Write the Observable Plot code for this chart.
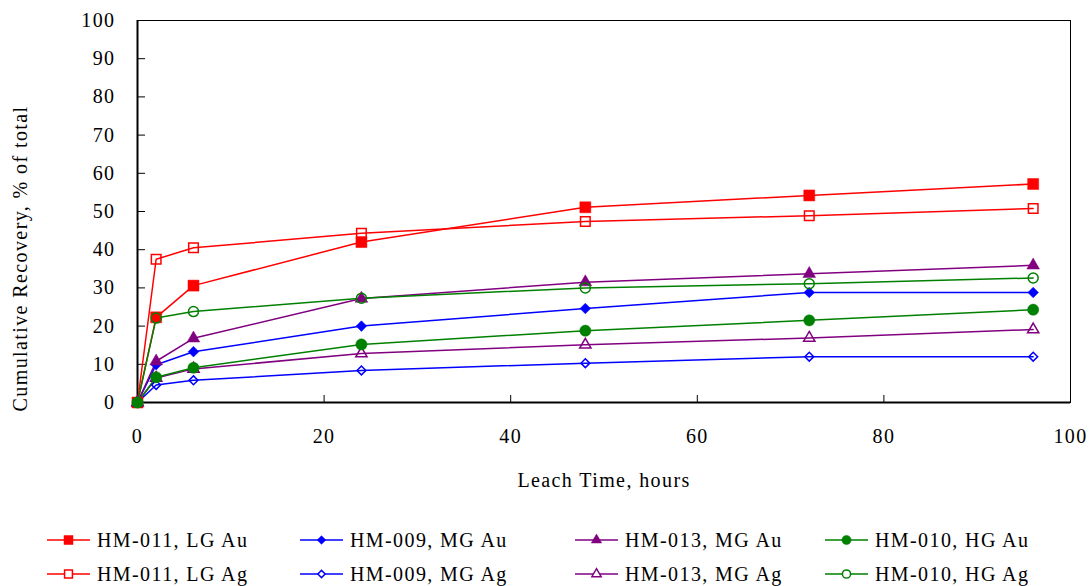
<!DOCTYPE html>
<html><head><meta charset="utf-8">
<script src="https://cdn.jsdelivr.net/npm/d3@7"></script>
<script src="https://cdn.jsdelivr.net/npm/@observablehq/plot@0.6"></script>
<style>
body{margin:0;background:#fff;}
#chart{width:1091px;font-family:"Liberation Serif","Times New Roman",serif;}
#chart svg text{letter-spacing:1.4px;font-family:"Liberation Serif","Times New Roman",serif !important;font-variant:normal !important;}
#legend{display:block;}
</style></head><body>
<div id="chart"></div>
<script>
// ---- data ----
const time = [0, 2, 6, 24, 48, 72, 96];
const hm011Au = [0, 22.3, 30.6, 42.0, 51.1, 54.2, 57.2];
const hm011Ag = [0, 37.5, 40.5, 44.3, 47.4, 48.9, 50.8];
const hm009Au = [0, 9.9, 13.3, 20.0, 24.6, 28.8, 28.8];
const hm009Ag = [0, 4.6, 5.8, 8.4, 10.3, 12.0, 12.0];
const hm013Au = [0, 10.8, 16.8, 27.2, 31.5, 33.7, 35.9];
const hm013Ag = [0, 6.4, 8.8, 12.8, 15.1, 16.9, 19.1];
const hm010Au = [0, 6.6, 9.1, 15.2, 18.8, 21.5, 24.3];
const hm010Ag = [0, 22.1, 23.8, 27.3, 30.0, 31.1, 32.6];
const seriesNames = ["HM-011, LG Au","HM-011, LG Ag","HM-009, MG Au","HM-009, MG Ag","HM-013, MG Au","HM-013, MG Ag","HM-010, HG Au","HM-010, HG Ag"];
const xTicks = [0, 20, 40, 60, 80, 100];
const yTicks = [0, 10, 20, 30, 40, 50, 60, 70, 80, 90, 100];
const xLabel = "Leach Time, hours";
const yLabel = "Cumulative Recovery, % of total";

// ---- styles ----
const seriesValues = [hm011Au, hm011Ag, hm009Au, hm009Ag, hm013Au, hm013Ag, hm010Au, hm010Ag];
const seriesColors = ["#ff0000","#ff0000","#0000ff","#0000ff","#800080","#800080","#008000","#008000"];
const seriesSymbols = ["square","square","diamond2","diamond2","triangle","triangle","circle","circle"];
const seriesFilled = [true,false,true,false,true,false,true,false];
const symbolR = {square:[6.2,5.4], diamond2:[4.8,4.0], triangle:[4.7,4.2], circle:[5.6,5.0]};
const legendOrder = [0,2,4,6,1,3,5,7];
const FONT = '"Liberation Serif","Times New Roman",serif';

const W = 1091, H = 512, mL = 137, mR = 21, mT = 20, mB = 110;
const plotW = W - mL - mR, plotH = H - mT - mB;

const series = seriesNames.map((name, i) => ({
  name, color: seriesColors[i], symbol: seriesSymbols[i], filled: seriesFilled[i],
  data: time.map((t, j) => ({t, v: seriesValues[i][j]}))
}));

const marks = [
  Plot.frame({stroke: "#000", strokeWidth: 1}),
  Plot.axisX({ticks: xTicks, tickSize: 0, tickPadding: 26, label: null, fontSize: 20, fontFamily: FONT, tickFormat: d => d}),
  Plot.axisY({ticks: yTicks, tickSize: 0, tickPadding: 22, label: null, fontSize: 20, fontFamily: FONT, tickFormat: d => d}),
  Plot.tickX(xTicks.slice(1, -1), {x: d => d, stroke: "#000", insetTop: plotH - 7}),
  Plot.tickY(yTicks, {y: d => d, stroke: "#000", insetRight: plotW - 8}),
  Plot.ruleX([0], {stroke: "#000", strokeWidth: 2}),
  Plot.ruleY([0], {stroke: "#000", strokeWidth: 2}),
];
for (const s of series) {
  marks.push(Plot.line(s.data, {x: "t", y: "v", stroke: s.color, strokeWidth: 1.5}));
}
for (const s of series) {
  const r = symbolR[s.symbol][s.filled ? 0 : 1];
  marks.push(Plot.dot(s.data, {x: "t", y: "v", symbol: s.symbol, r,
    fill: s.filled ? s.color : "none", stroke: s.color, strokeWidth: s.filled ? 0.5 : 1.5}));
}
marks.push(Plot.text([xLabel], {frameAnchor: "bottom", textAnchor: "middle", dy: 84, fontSize: 20, fill: "#000", fontFamily: FONT}));
marks.push(Plot.text([yLabel], {frameAnchor: "left", textAnchor: "middle", rotate: -90, dx: -117, dy: 47, fontSize: 20, fill: "#000", fontFamily: FONT}));

const chart = Plot.plot({
  width: W, height: H, marginLeft: mL, marginRight: mR, marginTop: mT, marginBottom: mB,
  x: {domain: [0, 100]}, y: {domain: [0, 100]},
  style: {fontFamily: FONT, fontSize: "20px", color: "#000", background: "#fff"},
  marks
});
document.getElementById("chart").appendChild(chart);

// ---- legend ----
const colX = [47, 300, 575, 825];
const rowY = [28, 62];
const lg = d3.select("#chart").append("svg").attr("id", "legend").attr("width", W).attr("height", 74)
  .style("font-family", FONT);
const symMap = {square: d3.symbolSquare, diamond2: d3.symbolDiamond2, triangle: d3.symbolTriangle, circle: d3.symbolCircle};
legendOrder.forEach((si, k) => {
  const s = series[si];
  const cx = colX[k % 4], cy = rowY[Math.floor(k / 4)];
  const g = lg.append("g").attr("transform", `translate(${cx},${cy})`);
  g.append("line").attr("x1", 0).attr("x2", 43).attr("y1", 0).attr("y2", 0)
    .attr("stroke", s.color).attr("stroke-width", 1.5);
  const r = symbolR[s.symbol][s.filled ? 0 : 1] * 0.82;
  g.append("path").attr("transform", "translate(21.5,0)")
    .attr("d", d3.symbol(symMap[s.symbol], Math.PI * r * r)())
    .attr("fill", s.filled ? s.color : "white").attr("stroke", s.color).attr("stroke-width", s.filled ? 0.5 : 1.5);
  g.append("text").attr("x", 50).attr("y", 0).attr("dy", "0.35em")
    .attr("font-size", 20).attr("fill", "#000").text(s.name);
});
</script>
</body></html>
